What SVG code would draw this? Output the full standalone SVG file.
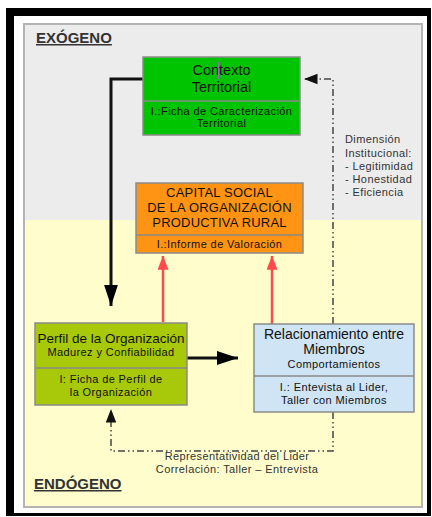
<svg xmlns="http://www.w3.org/2000/svg" width="432" height="517" viewBox="0 0 432 517">
<defs>
<style>
text{font-family:"Liberation Sans",Arial,sans-serif;fill:#111;}
.zone{font-size:15px;font-weight:bold;fill:#333;text-decoration:underline;}
.t1{font-size:14.5px;text-anchor:middle;}
.t2{font-size:13px;text-anchor:middle;letter-spacing:0.2px;}
.s{font-size:11px;text-anchor:middle;letter-spacing:0.4px;}
.note{font-size:11px;letter-spacing:0.4px;fill:#333;}
.box{stroke:#8a8a8a;stroke-width:1.5;}
.div{stroke:#8a8a8a;stroke-width:1.5;}
.solid{fill:none;stroke:#111;stroke-width:3;}
.red{fill:none;stroke:#ff4a4a;stroke-width:2.5;}
.dash{fill:none;stroke:#444;stroke-width:1.5;stroke-dasharray:7 3 1.5 3 1.5 3;}
</style>
<marker id="ab" markerWidth="8" markerHeight="5" refX="7" refY="2.3" orient="auto" markerUnits="strokeWidth"><path d="M0,0L7,2.3L0,4.6Z" fill="#000"/></marker>
<marker id="ar" markerWidth="6" markerHeight="6" refX="5.5" refY="2.2" orient="auto" markerUnits="strokeWidth"><path d="M0,0L5.6,2.2L0,4.4Z" fill="#ff4a4a"/></marker>
<marker id="ad" markerWidth="10" markerHeight="8" refX="9" refY="4" orient="auto" markerUnits="strokeWidth"><path d="M0,0.5L9,4L0,7.5Z" fill="#111"/></marker>
</defs>
<rect x="0" y="0" width="432" height="517" fill="#fff"/>
<rect x="6" y="8" width="425" height="508" fill="#000"/>
<rect x="14" y="16" width="413" height="497" fill="#fff"/>
<g id="zones">
<rect x="24" y="24" width="398" height="196" fill="#ececec"/>
<rect x="24" y="220" width="398" height="287" fill="#fffdcc"/>
<rect x="24" y="24" width="398" height="483" fill="none" stroke="#b4b4b4" stroke-width="2"/>
<text class="zone" x="36" y="43">EXÓGENO</text>
<text class="zone" x="34" y="489">ENDÓGENO</text>
</g>
<g id="connectors">
<polyline class="solid" points="143,79 111,79 111,306" marker-end="url(#ab)"/>
<line class="solid" x1="187" y1="358" x2="238" y2="358" marker-end="url(#ab)"/>
<line class="red" x1="163" y1="322" x2="163" y2="256" marker-end="url(#ar)"/>
<line class="red" x1="272" y1="324" x2="272" y2="256" marker-end="url(#ar)"/>
<polyline class="dash" points="333,324 333,79 304,79" marker-end="url(#ad)"/>
<polyline class="dash" points="333,412 333,451 111,451 111,409" marker-end="url(#ad)"/>
<text class="s" x="237" y="460" style="fill:#333">Representatividad del Lider</text>
<text class="s" x="237" y="473" style="fill:#333">Correlación: Taller – Entrevista</text>
</g>
<g id="dimension">
<text class="note" x="345" y="143">Dimensión</text>
<text class="note" x="345" y="157">Institucional:</text>
<text class="note" x="345" y="170">- Legitimidad</text>
<text class="note" x="345" y="183">- Honestidad</text>
<text class="note" x="345" y="196">- Eficiencia</text>
</g>
<g id="contexto">
<rect class="box" x="143" y="57" width="157" height="78" fill="#00c400"/>
<line class="div" x1="143" y1="101" x2="300" y2="101"/>
<text class="t1" x="221.5" y="75">Contexto</text>
<text class="t1" x="221.5" y="92">Territorial</text>
<line x1="218.5" y1="62" x2="218.5" y2="79" stroke="#b060c0" stroke-width="1"/>
<text class="s" x="221.5" y="115">I.:Ficha de Caracterización</text>
<text class="s" x="221.5" y="127">Territorial</text>
</g>
<g id="capital">
<rect class="box" x="136" y="183" width="167" height="70" fill="#ff9314"/>
<line class="div" x1="136" y1="235" x2="303" y2="235"/>
<text class="t2" x="219.5" y="197">CAPITAL SOCIAL</text>
<text class="t2" x="219.5" y="212">DE LA ORGANIZACIÓN</text>
<text class="t2" x="219.5" y="227">PRODUCTIVA RURAL</text>
<text class="s" x="219.5" y="248">I.:Informe de Valoración</text>
</g>
<g id="perfil">
<rect class="box" x="35" y="323" width="152" height="82" fill="#a8c80a"/>
<line class="div" x1="35" y1="368" x2="187" y2="368"/>
<text class="t1" x="111" y="343" style="font-size:13.5px">Perfil de la Organización</text>
<text class="s" x="111" y="356">Madurez y Confiabilidad</text>
<text class="s" x="111" y="383">I: Ficha de Perfil de</text>
<text class="s" x="111" y="396">la Organización</text>
</g>
<g id="relacionamiento">
<rect class="box" x="254" y="324" width="160" height="88" fill="#cfe4f4"/>
<line class="div" x1="254" y1="376" x2="414" y2="376"/>
<text class="t1" x="334" y="339" style="font-size:14px">Relacionamiento entre</text>
<text class="t1" x="334" y="354" style="font-size:14px">Miembros</text>
<text class="s" x="334" y="368">Comportamientos</text>
<text class="s" x="334" y="391">I.: Entevista al Lider,</text>
<text class="s" x="334" y="404">Taller con Miembros</text>
</g>
</svg>
